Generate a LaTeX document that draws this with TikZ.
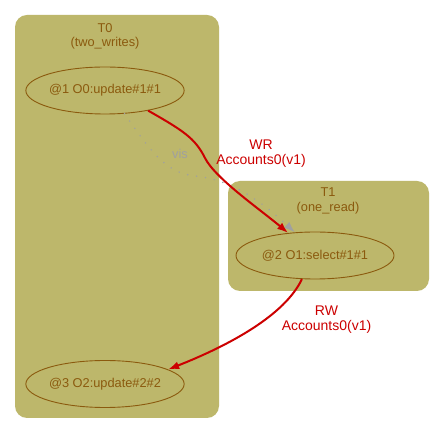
\documentclass[tikz,border=0pt]{standalone}
\usepackage{fontspec}
\setmainfont{Liberation Sans}
\usetikzlibrary{shapes.geometric,arrows.meta}
\definecolor{clfill}{HTML}{BDB76B}
\definecolor{brn}{HTML}{8B5A0E}
\definecolor{edred}{HTML}{CC0000}
\definecolor{visgray}{HTML}{A0A0A0}
\tikzset{
  op/.style={ellipse, draw=brn, line width=0.9pt, text=brn, minimum width=158pt, minimum height=47pt, inner sep=0pt, font=\fontsize{12.8}{14}\selectfont},
  cl/.style={fill=clfill, draw=none, rounded corners=12pt},
  cllab/.style={text=brn, font=\fontsize{12.8}{14}\selectfont, inner sep=0pt},
  edlab/.style={text=edred, font=\fontsize{14}{16}\selectfont, inner sep=0pt},
  dep/.style={draw=edred, line width=2pt, -{Latex[length=11pt,width=8pt]}},
  vis/.style={draw=visgray, line width=1.6pt, line cap=round, dash pattern=on 0pt off 9pt, -{Latex[length=11pt,width=8pt]}},
}
\begin{document}
\begin{tikzpicture}[x=1pt,y=-1pt]
\useasboundingbox (0,0) rectangle (445,435);
\fill[white] (0,0) rectangle (445,435);
\path[cl] (15,15) rectangle (219,418);
\path[cl] (228,181) rectangle (429,291);
\node[cllab] (t0) at (105,28) {T0};
\node[cllab] (t0n) at (105,43) {(two\_writes)};
\node[cllab] (t1) at (328,192) {T1};
\node[cllab] (t1n) at (328,208) {(one\_read)};
\node[op] (n1) at (105,90.5) {@1 O0:update\#1\#1};
\node[op] (n2) at (315,255.5) {@2 O1:select\#1\#1};
\node[op] (n3) at (105,384) {@3 O2:update\#2\#2};
\draw[vis] (n1.-50) .. controls (150,150) and (165,173) .. (195,176) .. controls (235,180) and (265,205) .. (n2.131.6);
\node[text=visgray, font=\fontsize{12.8}{14}\selectfont, inner sep=0pt] (vl) at (180,153.5) {vis};
\draw[dep] (n1.-25.5) .. controls +(35,20) and +(-10,-20) .. (205,158) .. controls +(10,20) and +(-30,-25) .. (n2.140);
\node[edlab] (wr1) at (261,145) {WR};
\node[edlab] (wr2) at (261,161) {Accounts0(v1)};
\draw[dep] (n2.-119.5) .. controls (285,315) and (230,345) .. (n3.13);
\node[edlab] (rw1) at (326.5,311) {RW};
\node[edlab] (rw2) at (326.5,327) {Accounts0(v1)};
\end{tikzpicture}
\end{document}
